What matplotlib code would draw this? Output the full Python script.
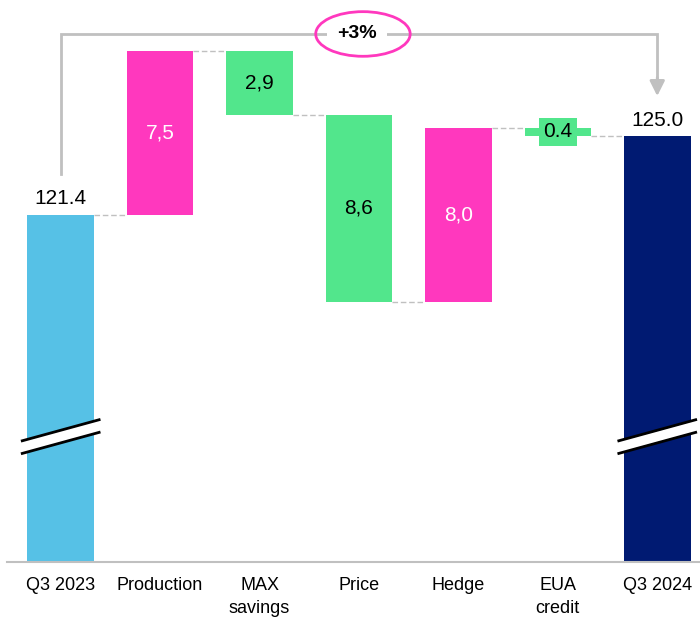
import numpy as np
import matplotlib
matplotlib.use("Agg")
import matplotlib.pyplot as plt
from matplotlib.patches import Ellipse

plt.rcParams["font.family"] = ["Liberation Sans", "DejaVu Sans"]

# --- data -----------------------------------------------------------------
categories = ["Q3 2023", "Production", "MAX\nsavings", "Price", "Hedge", "EUA\ncredit", "Q3 2024"]
start_value = 121.4
deltas = [7.5, -2.9, -8.6, 8.0, -0.4]
delta_labels = ["7,5", "2,9", "8,6", "8,0", "0.4"]
end_label = "125.0"
change_label = "+3%"

# --- style ----------------------------------------------------------------
BLUE = "#56C1E6"
NAVY = "#001A72"
PINK = "#FF38BE"
GREEN = "#52E68C"
GREY = "#C0C0C0"
y_floor = 105.45
break_level = 111.0
width = 0.67
FS = 15

fig = plt.figure(figsize=(7.0, 6.24), dpi=100)
ax = fig.add_axes([0.01, 1 - 562 / 624, 0.99, 562 / 624])

levels = np.concatenate([[start_value], start_value + np.cumsum(deltas)])
end_value = levels[-1]
x = np.arange(len(categories))

# totals
ax.bar(x[0], start_value - y_floor, bottom=y_floor, width=width, color=BLUE, zorder=2)
ax.bar(x[-1], end_value - y_floor, bottom=y_floor, width=width, color=NAVY, zorder=2)
ax.text(x[0], start_value + 0.3, f"{start_value:.1f}", ha="center", va="bottom", fontsize=FS)
ax.text(x[-1], end_value + 0.3, end_label, ha="center", va="bottom", fontsize=FS)

# floating bars
for i, (d, lab) in enumerate(zip(deltas, delta_labels)):
    xi = x[i + 1]
    lo, hi = sorted([levels[i], levels[i + 1]])
    col = PINK if d > 0 else GREEN
    ax.bar(xi, hi - lo, bottom=lo, width=width, color=col, zorder=2)
    txt_col = "white" if d > 0 else "black"
    mid = (lo + hi) / 2
    if abs(d) < 1:
        ax.text(xi, mid, lab, ha="center", va="center", fontsize=FS, color=txt_col,
                bbox=dict(boxstyle="square,pad=0.2", fc=GREEN, ec="none"), zorder=3)
    else:
        ax.text(xi, mid, lab, ha="center", va="center", fontsize=FS, color=txt_col, zorder=3)

# dashed connectors
for i in range(len(levels)):
    ax.plot([x[i] + width / 2, x[i + 1] - width / 2], [levels[i], levels[i]],
            color=GREY, lw=1, ls=(0, (4, 2)), zorder=1)

# axis breaks on total bars
for xi in (x[0], x[-1]):
    for off in (0.0, 0.58):
        xs = np.array([xi - 0.4, xi + 0.4])
        ys = break_level - off + np.array([0.0, 1.0])
        ax.plot(xs, ys, color="black", lw=2, zorder=4, solid_capstyle="butt")
    poly_x = [xi - 0.4, xi + 0.4, xi + 0.4, xi - 0.4]
    poly_y = [break_level - 0.03, break_level + 0.97, break_level + 0.45, break_level - 0.55]
    ax.fill(poly_x, poly_y, color="white", zorder=3, lw=0)

# change bracket
top = levels.max() + 0.8
ax.plot([x[0], x[0], x[-1], x[-1]],
        [start_value + 1.85, top, top, end_value + 2.6],
        color=GREY, lw=2, zorder=1, solid_joinstyle="miter")
ax.annotate("", xy=(x[-1], end_value + 1.85), xytext=(x[-1], end_value + 2.7),
            arrowprops=dict(arrowstyle="-|>,head_width=0.45,head_length=0.9",
                            color=GREY, lw=2, shrinkA=0, shrinkB=0))
mid_x = (x[0] + x[-1]) / 2
ax.text(mid_x - 0.02, top, change_label, ha="center", va="center", fontsize=14, fontweight="bold",
        bbox=dict(boxstyle="square,pad=0.5", fc="white", ec="none"), zorder=3)
ax.add_patch(Ellipse((mid_x + 0.04, top), 0.95, 2.05, fill=False, ec=PINK, lw=2, zorder=4))

ax.set_xlim(-0.54, 6.43)
ax.set_ylim(y_floor, 131.26)
ax.set_xticks(x)
ax.set_xticklabels(categories, fontsize=13, linespacing=1.45)
ax.tick_params(axis="x", length=0, pad=11)
ax.set_yticks([])
for s in ("top", "right", "left"):
    ax.spines[s].set_visible(False)
ax.spines["bottom"].set_color(GREY)
ax.spines["bottom"].set_linewidth(1.5)

fig.savefig("out.png", dpi=100)
